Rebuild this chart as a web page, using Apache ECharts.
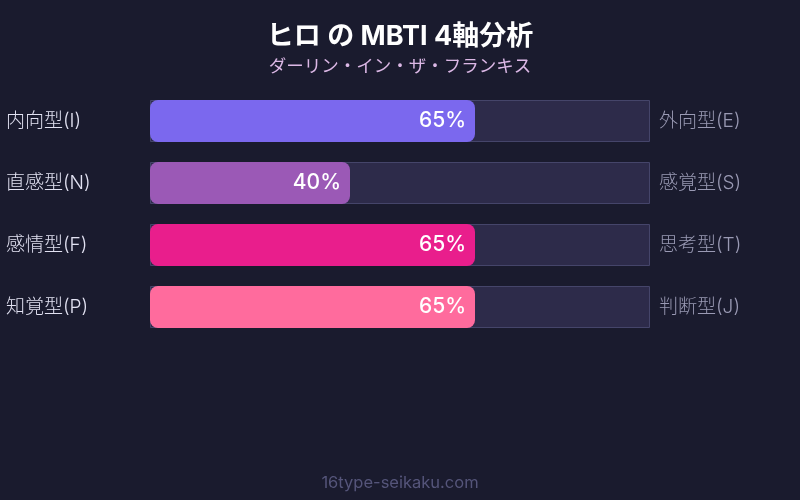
<!DOCTYPE html>
<html>
<head>
<meta charset="utf-8">
<script src="https://cdn.jsdelivr.net/npm/echarts@6/dist/echarts.min.js"></script>
<style>
html,body{margin:0;padding:0;background:#1a1b2e;}
#c{width:800px;height:500px;}
</style>
</head>
<body>
<div id="c"></div>
<script>
const leftLabels = ['内向型(I)', '直感型(N)', '感情型(F)', '知覚型(P)'];
const rightLabels = ['外向型(E)', '感覚型(S)', '思考型(T)', '判断型(J)'];
const values = [65, 40, 65, 65];
const trackValues = [100, 100, 100, 100];
const barColors = ['#7b68ee', '#9b59b6', '#e91e8c', '#ff6b9d'];

const FONT = '"Inter", "Noto Sans CJK JP", sans-serif';
const chart = echarts.init(document.getElementById('c'));
chart.setOption({
  backgroundColor: '#1a1b2e',
  animation: false,
  title: {
    text: 'ヒロ の MBTI 4軸分析',
    subtext: 'ダーリン・イン・ザ・フランキス',
    left: 'center',
    top: 18,
    itemGap: 8,
    textStyle: { color: '#ffffff', fontSize: 27, fontWeight: 'bold', fontFamily: FONT },
    subtextStyle: { color: '#dcb8e6', fontSize: 17.5, fontFamily: FONT }
  },
  graphic: [{
    type: 'text',
    left: 'center',
    top: 475,
    style: { text: '16type-seikaku.com', fill: '#55557a', fontSize: 16.5, fontFamily: FONT }
  }],
  grid: { left: 150, right: 150, top: 90, bottom: 162 },
  xAxis: { type: 'value', min: 0, max: 100, show: false },
  yAxis: [{
    type: 'category',
    data: leftLabels,
    inverse: true,
    position: 'left',
    axisLine: { show: false },
    axisTick: { show: false },
    axisLabel: { color: '#e2e2f2', fontSize: 19, fontWeight: 300, align: 'left', margin: 144, fontFamily: FONT }
  }, {
    type: 'category',
    data: rightLabels,
    inverse: true,
    position: 'right',
    axisLine: { show: false },
    axisTick: { show: false },
    axisLabel: { color: '#9a9ab4', fontSize: 19, fontWeight: 300, align: 'left', margin: 9, fontFamily: FONT }
  }],
  series: [{
    type: 'bar',
    data: trackValues,
    yAxisIndex: 0,
    barWidth: 42,
    barGap: '-100%',
    silent: true,
    itemStyle: { color: '#2d2b4a', borderColor: '#45456a', borderWidth: 1 },
    z: 1
  }, {
    type: 'bar',
    data: values.map((v, i) => ({ value: v, itemStyle: { color: barColors[i] } })),
    yAxisIndex: 0,
    barWidth: 42,
    itemStyle: { borderRadius: 8 },
    label: {
      show: true,
      position: 'insideRight',
      distance: 9,
      formatter: '{c}%',
      color: '#ffffff',
      fontSize: 21,
      fontWeight: 500,
      fontFamily: FONT
    },
    z: 2
  }]
});
</script>
</body>
</html>
